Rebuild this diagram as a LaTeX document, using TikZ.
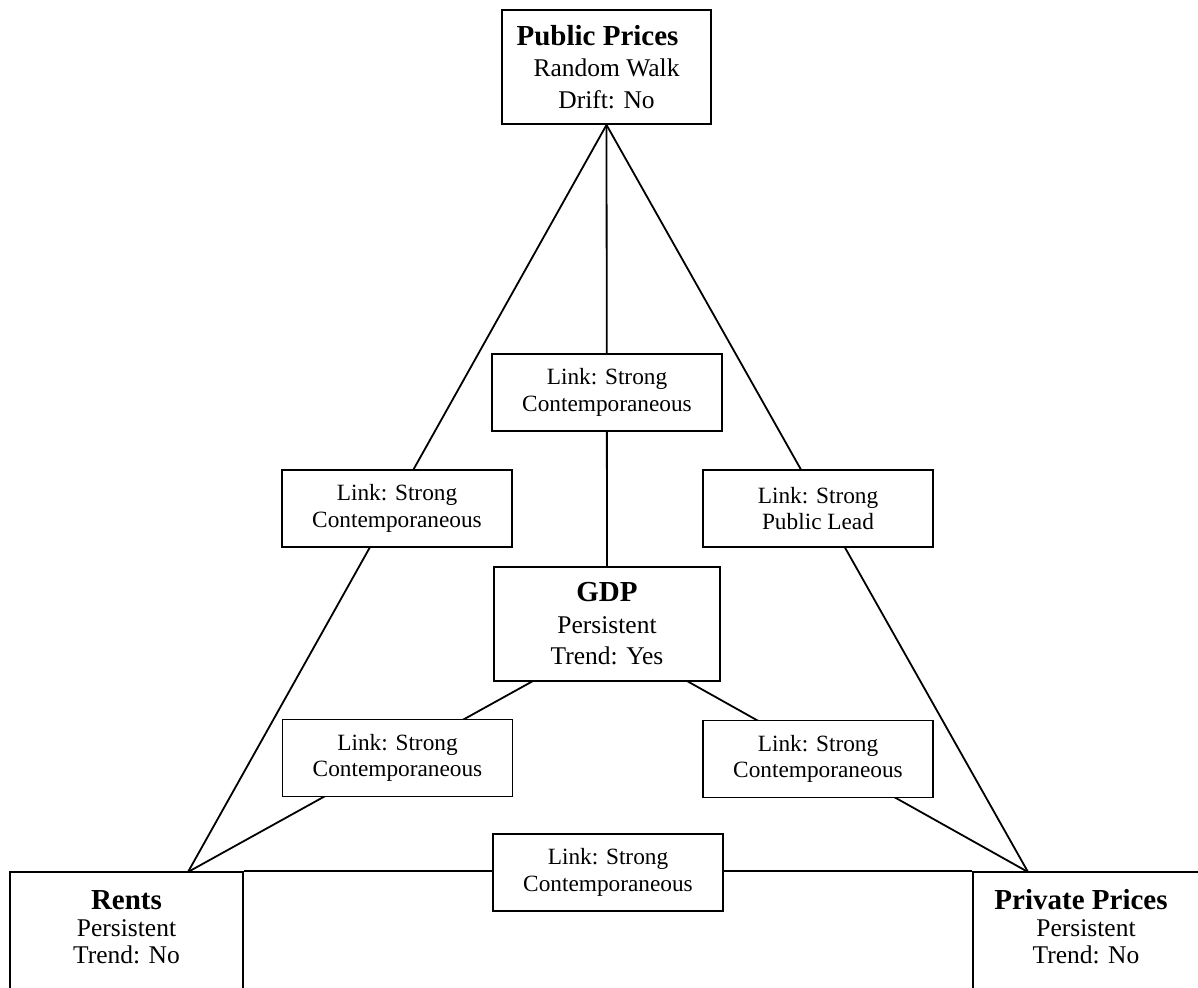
\documentclass[tikz,border=0pt]{standalone}
\usepackage{fontspec}
\setmainfont{Liberation Serif}
\usetikzlibrary{backgrounds}
\begin{document}
\begin{tikzpicture}[x=1pt,y=-1pt,
  mainbox/.style={draw=black, line width=1.8pt, fill=white, inner sep=0pt, align=center,
    font=\fontsize{25.5}{31.5}\selectfont},
  cutbox/.style={mainbox, minimum height=140pt, text depth=31pt,
    font=\fontsize{25.5}{27}\selectfont},
  linkbox/.style={draw=black, line width=1.2pt, fill=white, inner sep=0pt, align=center,
    minimum width=230pt, minimum height=77pt, font=\fontsize{23.3}{26.5}\selectfont},
  conn/.style={draw=black, line width=1.8pt}]
\useasboundingbox (0,0) rectangle (1198,987);
\clip (0,0) rectangle (1198,987);
% main boxes
\node[mainbox, minimum width=209pt, minimum height=114pt] (pub) at (606.5,67)
  {{\bfseries\fontsize{29}{31}\selectfont Public Prices\hspace*{18pt}}\\Random Walk\\Drift: No};
\node[mainbox, minimum width=226pt, minimum height=114pt] (gdp) at (607,624)
  {{\bfseries\fontsize{29}{31}\selectfont GDP}\\Persistent\\Trend: Yes};
\node[cutbox, minimum width=233pt] (rents) at (126.5,942)
  {{\bfseries\fontsize{29}{27}\selectfont Rents}\\Persistent\\Trend: No};
\node[cutbox, minimum width=226pt] (priv) at (1086,942)
  {{\bfseries\fontsize{29}{27}\selectfont Private Prices\hspace*{10pt}}\\Persistent\\Trend: No};
% link boxes
\node[linkbox] (ltop) at (607,392.5) {Link: Strong\\Contemporaneous};
\node[linkbox] (lleft) at (397,508.5) {Link: Strong\\Contemporaneous};
\node[linkbox] (lright) at (818,508.5) {Link: Strong\\Public Lead};
\node[linkbox] (llow) at (397.5,758) {Link: Strong\\Contemporaneous};
\node[linkbox] (lrlow) at (818,759) {Link: Strong\\Contemporaneous};
\node[linkbox] (lbot) at (608,872.5) {Link: Strong\\Contemporaneous};
% junction points
\coordinate (rc) at (188,872);
\coordinate (pc) at (1028,872);
\coordinate (gl) at (533,681);
\coordinate (gr) at (687,681);
\begin{pgfonlayer}{background}
\draw[conn] (pub.south) -- (rc);
\draw[conn] (pub.south) -- (pc);
\draw[conn] (pub.south) -- (gdp.north);
\draw[conn] (gl) -- (rc);
\draw[conn] (gr) -- (pc);
\draw[conn] (rents.north east) -- (priv.north west);
\end{pgfonlayer}
\end{tikzpicture}
\end{document}
